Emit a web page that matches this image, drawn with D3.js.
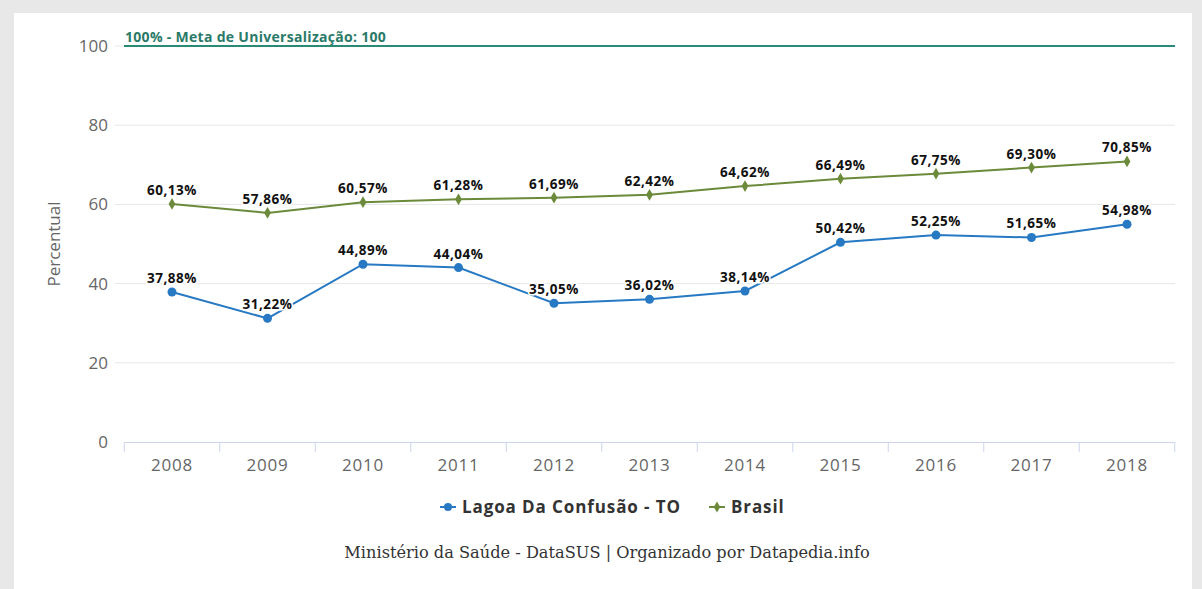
<!DOCTYPE html>
<html>
<head>
<meta charset="utf-8">
<script src="https://cdn.jsdelivr.net/npm/d3@7"></script>
<style>
  body { margin: 0; background: #e8e8e8; }
  svg { display: block; }
</style>
</head>
<body>
<svg width="1202" height="589"></svg>
<script>
const anos = ["2008", "2009", "2010", "2011", "2012", "2013", "2014", "2015", "2016", "2017", "2018"];
const lagoa = [37.88, 31.22, 44.89, 44.04, 35.05, 36.02, 38.14, 50.42, 52.25, 51.65, 54.98];
const brasil = [60.13, 57.86, 60.57, 61.28, 61.69, 62.42, 64.62, 66.49, 67.75, 69.30, 70.85];
const yTicks = [0, 20, 40, 60, 80, 100];
const meta = 100;

const svg = d3.select("svg");

// painel branco
svg.append("rect").attr("x", 14).attr("y", 13).attr("width", 1178).attr("height", 580).attr("fill", "#fff");

const x = d3.scaleBand().domain(anos).range([124.25, 1174.75]);
const y = d3.scaleLinear().domain([0, 100]).range([442, 46]);
const cx = d => x(d) + x.bandwidth() / 2;

// grid
svg.append("g").selectAll("line").data(yTicks.filter(t => t > 0)).enter().append("line")
  .attr("x1", 115).attr("x2", 1175)
  .attr("y1", d => y(d)).attr("y2", d => y(d))
  .attr("stroke", "#e6e6e6").attr("stroke-width", 1);

svg.append("g").selectAll("text").data(yTicks).enter().append("text")
  .attr("x", 108).attr("y", d => y(d) + 6)
  .attr("text-anchor", "end")
  .attr("font-family", "'Open Sans', sans-serif").attr("font-size", 17).attr("fill", "#666")
  .text(d => d);

// eixo x
const xAxis = svg.append("g").attr("transform", "translate(0,442)")
  .call(d3.axisBottom(x).tickSize(0).tickPadding(17));
xAxis.select(".domain").attr("stroke", "#ccd6eb");
xAxis.selectAll("text").attr("font-family", "'Open Sans', sans-serif").attr("font-size", 17)
  .attr("letter-spacing", 0.8).attr("fill", "#666");
svg.append("g").selectAll("line").data(anos.concat(["fim"])).enter().append("line")
  .attr("x1", (d, i) => 124.25 + i * x.bandwidth()).attr("x2", (d, i) => 124.25 + i * x.bandwidth())
  .attr("y1", 442).attr("y2", 452).attr("stroke", "#ccd6eb");

svg.append("text")
  .attr("transform", "translate(60,244) rotate(-90)")
  .attr("text-anchor", "middle")
  .attr("font-family", "'Open Sans', sans-serif").attr("font-size", 17).attr("fill", "#666")
  .text("Percentual");

// linha da meta
svg.append("line").attr("x1", 124).attr("x2", 1175).attr("y1", y(meta)).attr("y2", y(meta))
  .attr("stroke", "#2a8a78").attr("stroke-width", 2);
svg.append("text").attr("x", 125).attr("y", y(meta) - 4)
  .attr("font-family", "'Open Sans', sans-serif").attr("font-weight", "bold").attr("font-size", 14)
  .attr("letter-spacing", 0.3).attr("fill", "#2a7a68")
  .text("100% - Meta de Universalização: 100");

const series = [
  { nome: "Lagoa Da Confusão - TO", valores: lagoa, cor: "#2679c2", marcador: "circle" },
  { nome: "Brasil", valores: brasil, cor: "#6b8a3a", marcador: "diamond" }
];

const line = d3.line().x((d, i) => cx(anos[i])).y(d => y(d));
const fmt = v => v.toFixed(2).replace(".", ",") + "%";

series.forEach(s => {
  const g = svg.append("g");
  g.append("path").attr("d", line(s.valores)).attr("fill", "none")
    .attr("stroke", s.cor).attr("stroke-width", 2);
  if (s.marcador === "circle") {
    g.selectAll("circle").data(s.valores).enter().append("circle")
      .attr("cx", (d, i) => cx(anos[i])).attr("cy", d => y(d)).attr("r", 4.5).attr("fill", s.cor);
  } else {
    g.selectAll("path.m").data(s.valores).enter().append("path").attr("class", "m")
      .attr("d", d3.symbol(d3.symbolDiamond, 40))
      .attr("transform", (d, i) => `translate(${cx(anos[i])},${y(d)})`).attr("fill", s.cor);
  }
  g.selectAll("text").data(s.valores).enter().append("text")
    .attr("x", (d, i) => cx(anos[i])).attr("y", d => y(d) - 9)
    .attr("text-anchor", "middle")
    .attr("font-family", "'Open Sans', sans-serif").attr("font-weight", "bold").attr("font-size", 13.5)
    .attr("letter-spacing", 0.5)
    .attr("fill", "#111").attr("stroke", "#fff").attr("stroke-width", 3).attr("paint-order", "stroke")
    .text(fmt);
});

// legenda
const leg = svg.append("g").attr("transform", "translate(0,507)");
let lx = 440;
series.forEach(s => {
  leg.append("line").attr("x1", lx).attr("x2", lx + 16).attr("y1", 0).attr("y2", 0)
    .attr("stroke", s.cor).attr("stroke-width", 2);
  if (s.marcador === "circle") {
    leg.append("circle").attr("cx", lx + 8).attr("cy", 0).attr("r", 4).attr("fill", s.cor);
  } else {
    leg.append("path").attr("d", d3.symbol(d3.symbolDiamond, 36)).attr("transform", `translate(${lx + 8},0)`).attr("fill", s.cor);
  }
  const t = leg.append("text").attr("x", lx + 22).attr("y", 6)
    .attr("font-family", "'Open Sans', sans-serif").attr("font-weight", "bold").attr("font-size", 17)
    .attr("letter-spacing", 0.9).attr("fill", "#333")
    .text(s.nome);
  lx += 22 + t.node().getComputedTextLength() + 28;
});

svg.append("text").attr("x", 607).attr("y", 558).attr("text-anchor", "middle")
  .attr("font-family", "'DejaVu Serif', serif").attr("font-size", 16.2).attr("fill", "#333")
  .text("Ministério da Saúde - DataSUS | Organizado por Datapedia.info");
</script>
</body>
</html>
